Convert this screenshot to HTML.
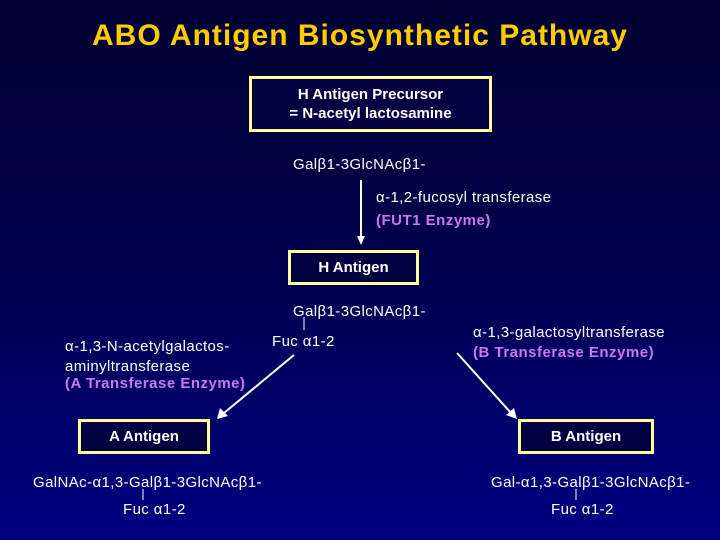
<!DOCTYPE html>
<html><head><style>
body{margin:0;width:720px;height:540px;overflow:hidden;background:linear-gradient(#000030 0%,#00004a 45%,#000080 100%);font-family:"Liberation Sans",sans-serif;color:#fff;position:relative}
.t{position:absolute;white-space:nowrap;font-size:15px;line-height:19px;letter-spacing:0.4px}
.b{font-weight:bold}
.p{color:#cc77ee;font-weight:bold;letter-spacing:0.5px}
.box{position:absolute;border:3px solid #ffff99;background:#000040;box-sizing:border-box;display:flex;align-items:center;justify-content:center;font-weight:bold;font-size:15px;text-align:center;line-height:19px}
</style></head><body>
<div class="t b" style="left:0;width:720px;text-align:center;top:18px;font-size:30px;line-height:36px;color:#ffcc00;letter-spacing:1px">ABO Antigen Biosynthetic Pathway</div>
<div class="box" style="left:249px;top:76px;width:243px;height:56px">H Antigen Precursor<br>= N-acetyl lactosamine</div>
<div class="t" style="left:293px;top:155px">Galβ1-3GlcNAcβ1-</div>
<div class="t" style="left:376px;top:188px">α-1,2-fucosyl transferase</div>
<div class="t p" style="left:376px;top:211px">(FUT1 Enzyme)</div>
<div class="box" style="left:288px;top:250px;width:131px;height:35px">H Antigen</div>
<div class="t" style="left:293px;top:302px">Galβ1-3GlcNAcβ1-</div>
<div class="t" style="left:272px;top:332px">Fuc α1-2</div>
<div class="t" style="left:65px;top:337px;line-height:20px">α-1,3-N-acetylgalactos-<br>aminyltransferase</div>
<div class="t p" style="left:65px;top:374px">(A Transferase Enzyme)</div>
<div class="t" style="left:473px;top:323px">α-1,3-galactosyltransferase</div>
<div class="t p" style="left:473px;top:343px">(B Transferase Enzyme)</div>
<div class="box" style="left:78px;top:419px;width:132px;height:35px">A Antigen</div>
<div class="box" style="left:518px;top:419px;width:136px;height:35px">B Antigen</div>
<div class="t" style="left:33px;top:473px">GalNAc-α1,3-Galβ1-3GlcNAcβ1-</div>
<div class="t" style="left:123px;top:500px">Fuc α1-2</div>
<div class="t" style="left:491px;top:473px">Gal-α1,3-Galβ1-3GlcNAcβ1-</div>
<div class="t" style="left:551px;top:500px">Fuc α1-2</div>
<svg width="720" height="540" style="position:absolute;left:0;top:0" stroke="#fff" fill="#fff">
<line x1="361" y1="180" x2="361" y2="236" stroke-width="2"/><polygon points="357,236 365,236 361,245" stroke="none"/>
<line x1="304" y1="317" x2="304" y2="330" stroke-width="1"/>
<line x1="294" y1="355" x2="224" y2="413" stroke-width="2"/><polygon points="217,419 220,408 228,416" stroke="none"/>
<line x1="457" y1="353" x2="511" y2="413" stroke-width="2"/><polygon points="517,419 506,415 514,408" stroke="none"/>
<line x1="143" y1="489" x2="143" y2="500" stroke-width="1"/>
<line x1="576" y1="489" x2="576" y2="500" stroke-width="1"/>
</svg>
</body></html>
